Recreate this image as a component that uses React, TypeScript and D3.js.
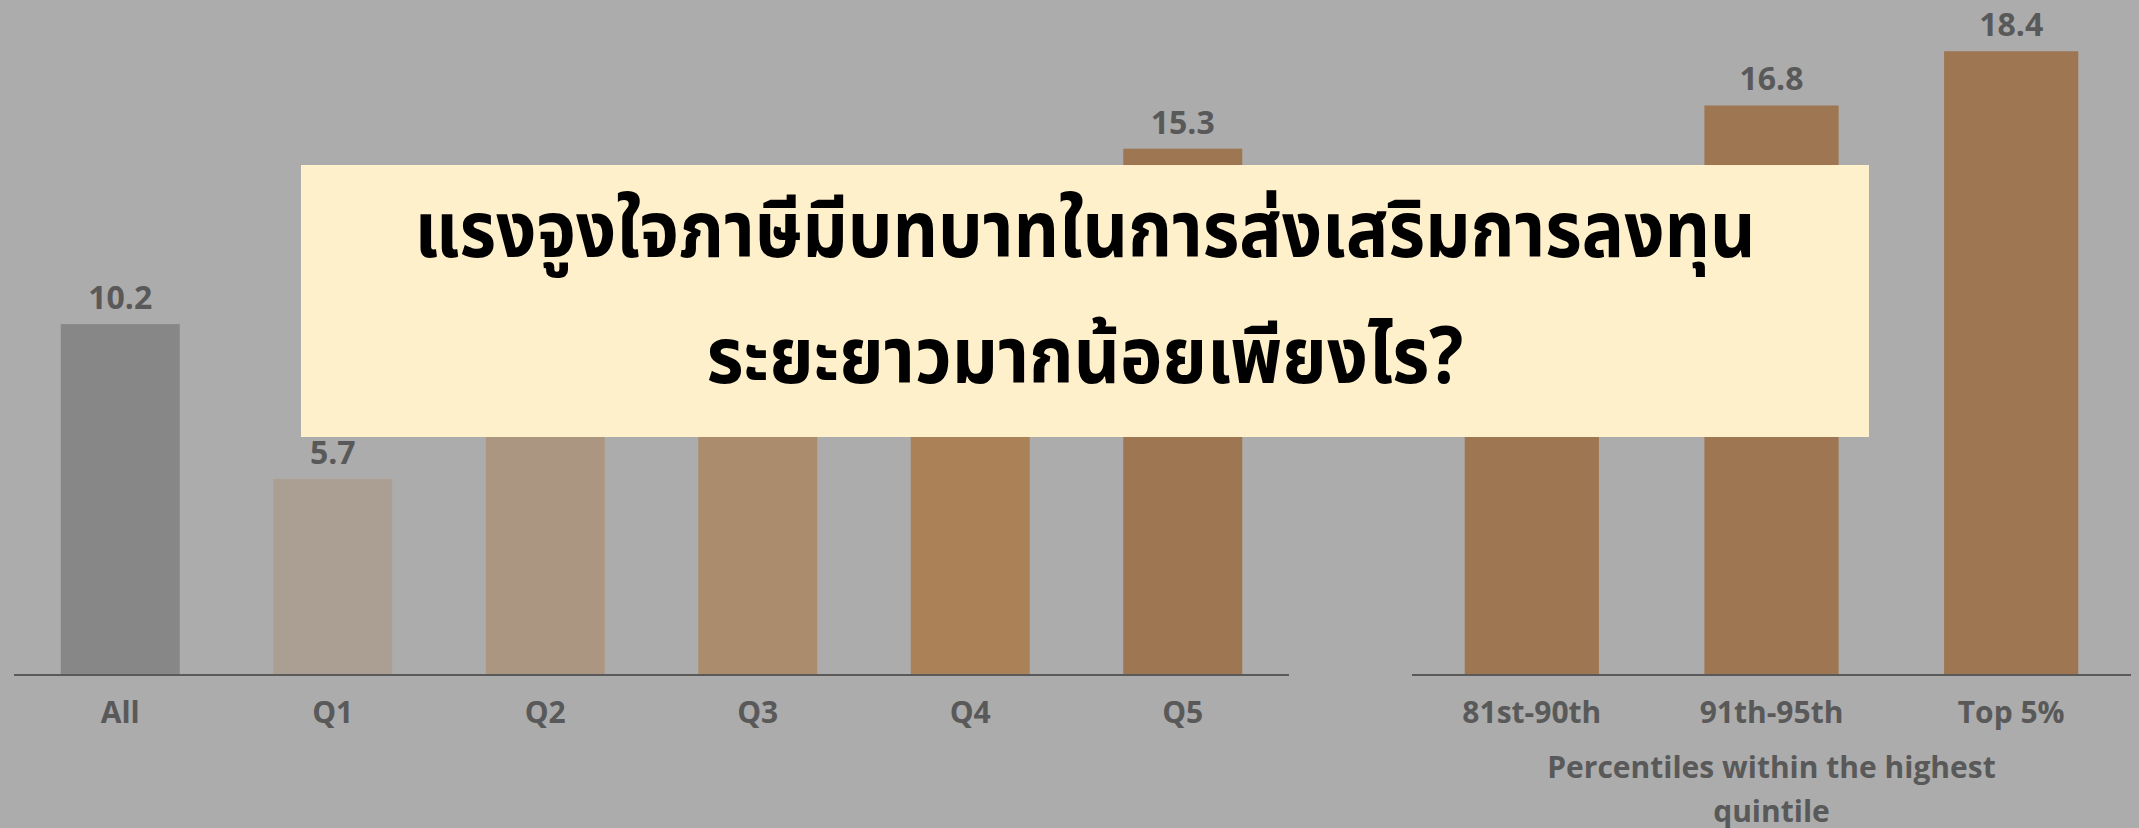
import React, { useEffect, useRef } from 'react';
import * as d3 from 'd3';

// values; Q2-Q4 and 81st-90th sit behind the title box, so they are estimates
const leftCategories = ['All', 'Q1', 'Q2', 'Q3', 'Q4', 'Q5'];
const leftValues = [10.2, 5.7, 7.8, 9.4, 11.6, 15.3];
const leftColors = ['#878787', '#ab9f93', '#ab9681', '#ab8d6e', '#ab8157', '#9e7752'];

const rightCategories = ['81st-90th', '91th-95th', 'Top 5%'];
const rightValues = [13.5, 16.8, 18.4];
const rightColor = '#9e7752';

const axisTitleLines = ['Percentiles within the highest', 'quintile'];
const titleLines = [
  'แรงจูงใจภาษีมีบทบาทในการส่งเสริมการลงทุน',
  'ระยะยาวมากน้อยเพียงไร?',
];

const width = 2139;
const height = 828;
const baseline = 675;
const labelFont = '"Open Sans", Lato, sans-serif';
const textColor = '#595959';
const box = { x: 301, y: 165, w: 1568, h: 272 };

type Datum = { category: string; value: number; color: string };

const App: React.FC = () => {
  const ref = useRef<SVGSVGElement>(null);

  useEffect(() => {
    if (!ref.current) return;
    const svg = d3.select(ref.current);
    svg.selectAll('*').remove();

    svg.append('rect').attr('width', width).attr('height', height).attr('fill', '#acacac');

    // the two panels are separate charts with slightly different vertical scales
    const drawPanel = (data: Datum[], x0: number, x1: number, topAt20: number) => {
      const y = d3.scaleLinear().domain([0, 20]).range([baseline, topAt20]);
      const x = d3
        .scaleBand()
        .domain(data.map((d) => d.category))
        .range([x0, x1])
        .paddingInner(0.44)
        .paddingOuter(0.22);
      const g = svg.append('g');

      g.selectAll('.bar')
        .data(data)
        .enter()
        .append('rect')
        .attr('x', (d) => x(d.category) || 0)
        .attr('y', (d) => y(d.value))
        .attr('width', x.bandwidth())
        .attr('height', (d) => baseline - y(d.value))
        .attr('fill', (d) => d.color);

      // labels that would sit under the title box are hidden in the original
      const cx = (d: Datum) => (x(d.category) || 0) + x.bandwidth() / 2;
      const covered = (d: Datum) => {
        const ly = y(d.value) - 15;
        return cx(d) > box.x && cx(d) < box.x + box.w && ly > box.y && ly - 24 < box.y + box.h;
      };

      g.selectAll('.value')
        .data(data.filter((d) => !covered(d)))
        .enter()
        .append('text')
        .attr('x', cx)
        .attr('y', (d) => y(d.value) - 15)
        .attr('text-anchor', 'middle')
        .attr('font-family', labelFont)
        .attr('font-weight', 700)
        .attr('font-size', 32)
        .attr('fill', textColor)
        .text((d) => d.value.toFixed(1));

      const axis = d3.axisBottom(x).tickSize(0);
      const ag = g.append('g').attr('transform', `translate(0,${baseline})`).call(axis);
      ag.select('.domain').attr('stroke', '#5a5a5a').attr('stroke-width', 2).attr('d', `M${x0},0H${x1}`);
      ag.selectAll('text')
        .attr('font-family', labelFont)
        .attr('font-weight', 700)
        .attr('font-size', 30)
        .attr('fill', textColor)
        .attr('dy', 0)
        .attr('y', 48);
    };

    drawPanel(
      leftCategories.map((c, i) => ({ category: c, value: leftValues[i], color: leftColors[i] })),
      14,
      1289,
      baseline - 688,
    );
    drawPanel(
      rightCategories.map((c, i) => ({ category: c, value: rightValues[i], color: rightColor })),
      1412,
      2131,
      baseline - 678,
    );

    svg
      .append('g')
      .selectAll('text')
      .data(axisTitleLines)
      .enter()
      .append('text')
      .attr('x', (1412 + 2131) / 2)
      .attr('y', (_d, i) => 778 + i * 44)
      .attr('text-anchor', 'middle')
      .attr('font-family', labelFont)
      .attr('font-weight', 700)
      .attr('font-size', 30)
      .attr('fill', textColor)
      .text((d) => d);

    // title box over the chart
    svg
      .append('rect')
      .attr('x', box.x)
      .attr('y', box.y)
      .attr('width', box.w)
      .attr('height', box.h)
      .attr('fill', '#fff0cc');

    svg
      .append('g')
      .selectAll('text')
      .data(titleLines)
      .enter()
      .append('text')
      .attr('x', box.x + box.w / 2)
      .attr('y', (_d, i) => 257 + i * 126)
      .attr('text-anchor', 'middle')
      .attr('font-family', '"Noto Sans Thai", "Leelawadee UI", Tahoma, "Noto Sans", "DejaVu Sans", sans-serif')
      .attr('font-weight', 700)
      .attr('font-size', 78)
      .attr('fill', '#000')
      .attr('textLength', (_d, i) => (i === 0 ? 1341 : 757))
      .attr('lengthAdjust', 'spacingAndGlyphs')
      .text((d) => d);
  }, []);

  return (
    <svg
      ref={ref}
      width={width}
      height={height}
      style={{ position: 'absolute', left: 0, top: 0, display: 'block' }}
    />
  );
};

export default App;
